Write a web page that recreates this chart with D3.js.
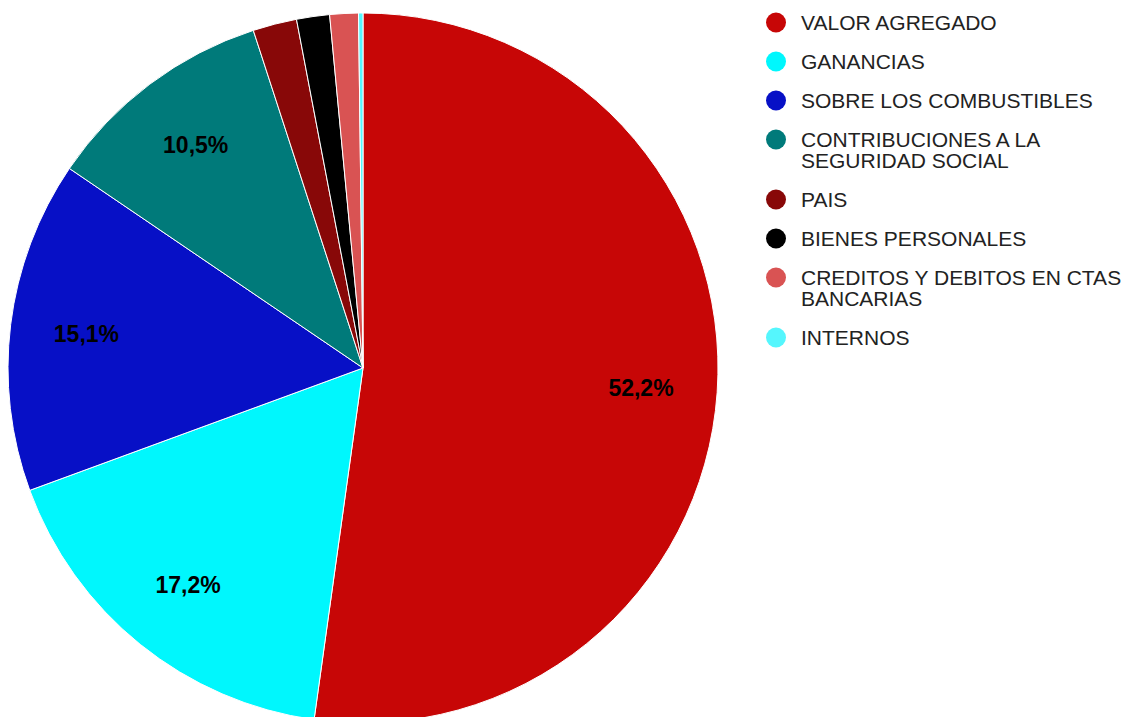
<!DOCTYPE html>
<html>
<head>
<meta charset="utf-8">
<script src="https://cdn.jsdelivr.net/npm/d3@7"></script>
<style>
  body { margin: 0; background: #fff; }
  text { font-family: Arial, "Liberation Sans", sans-serif; }
</style>
</head>
<body>
<svg></svg>
<script>
let width = 1125;
let height = 717;

let categories = ['VALOR AGREGADO', 'GANANCIAS', 'SOBRE LOS COMBUSTIBLES',
                  'CONTRIBUCIONES A LA SEGURIDAD SOCIAL', 'PAIS', 'BIENES PERSONALES',
                  'CREDITOS Y DEBITOS EN CTAS BANCARIAS', 'INTERNOS'];
let shares = [52.2, 17.2, 15.1, 10.5, 2.0, 1.5, 1.3, 0.2];
let colors = ['#c70606', '#00f7fd', '#0710c6', '#007a7a', '#880808', '#000000', '#d95353', '#55f6fd'];

let data = categories.map((c, i) => ({ name: c, value: shares[i], color: colors[i] }));

let cx = 363, cy = 368, radius = 355;

let svg = d3.select('svg')
    .attr('width', width)
    .attr('height', height);

let pie = d3.pie()
            .sort(null)
            .value(d => d.value);

let arc = d3.arc()
            .innerRadius(0)
            .outerRadius(radius);

let labelArc = d3.arc()
                 .innerRadius(radius * 0.785)
                 .outerRadius(radius * 0.785);

let g = svg.append('g')
    .attr('transform', `translate(${cx},${cy})`);

g.selectAll('path')
  .data(pie(data))
  .enter()
  .append('path')
    .attr('d', arc)
    .attr('fill', d => d.data.color)
    .attr('stroke', '#fff')
    .attr('stroke-width', 1);

// only slices big enough get a percent label
g.selectAll('text.pct')
  .data(pie(data).filter(d => d.data.value > 5))
  .enter()
  .append('text')
    .attr('class', 'pct')
    .attr('transform', d => `translate(${labelArc.centroid(d)})`)
    .attr('text-anchor', 'middle')
    .attr('dy', '0.36em')
    .attr('font-size', 23)
    .attr('font-weight', 'bold')
    .attr('fill', '#000')
    .text(d => d3.format('.1f')(d.data.value).replace('.', ',') + '%');

// legend
let legend = svg.append('g');
let y = 22.5;
let wrapWidth = 330;

data.forEach(d => {
  let item = legend.append('g').attr('transform', `translate(0,${y})`);
  item.append('circle')
      .attr('cx', 776)
      .attr('cy', 0)
      .attr('r', 10)
      .attr('fill', d.color);
  let text = item.append('text')
      .attr('x', 801)
      .attr('font-size', 21)
      .attr('fill', '#222');
  let words = d.name.split(' ');
  let line = [];
  let lines = 1;
  let tspan = text.append('tspan').attr('x', 801).attr('dy', '0.38em');
  words.forEach(w => {
    line.push(w);
    tspan.text(line.join(' '));
    if (tspan.node().getComputedTextLength() > wrapWidth && line.length > 1) {
      line.pop();
      tspan.text(line.join(' '));
      line = [w];
      tspan = text.append('tspan').attr('x', 801).attr('dy', 21).text(w);
      lines++;
    }
  });
  y += 39 + (lines - 1) * 21;
});
</script>
</body>
</html>
